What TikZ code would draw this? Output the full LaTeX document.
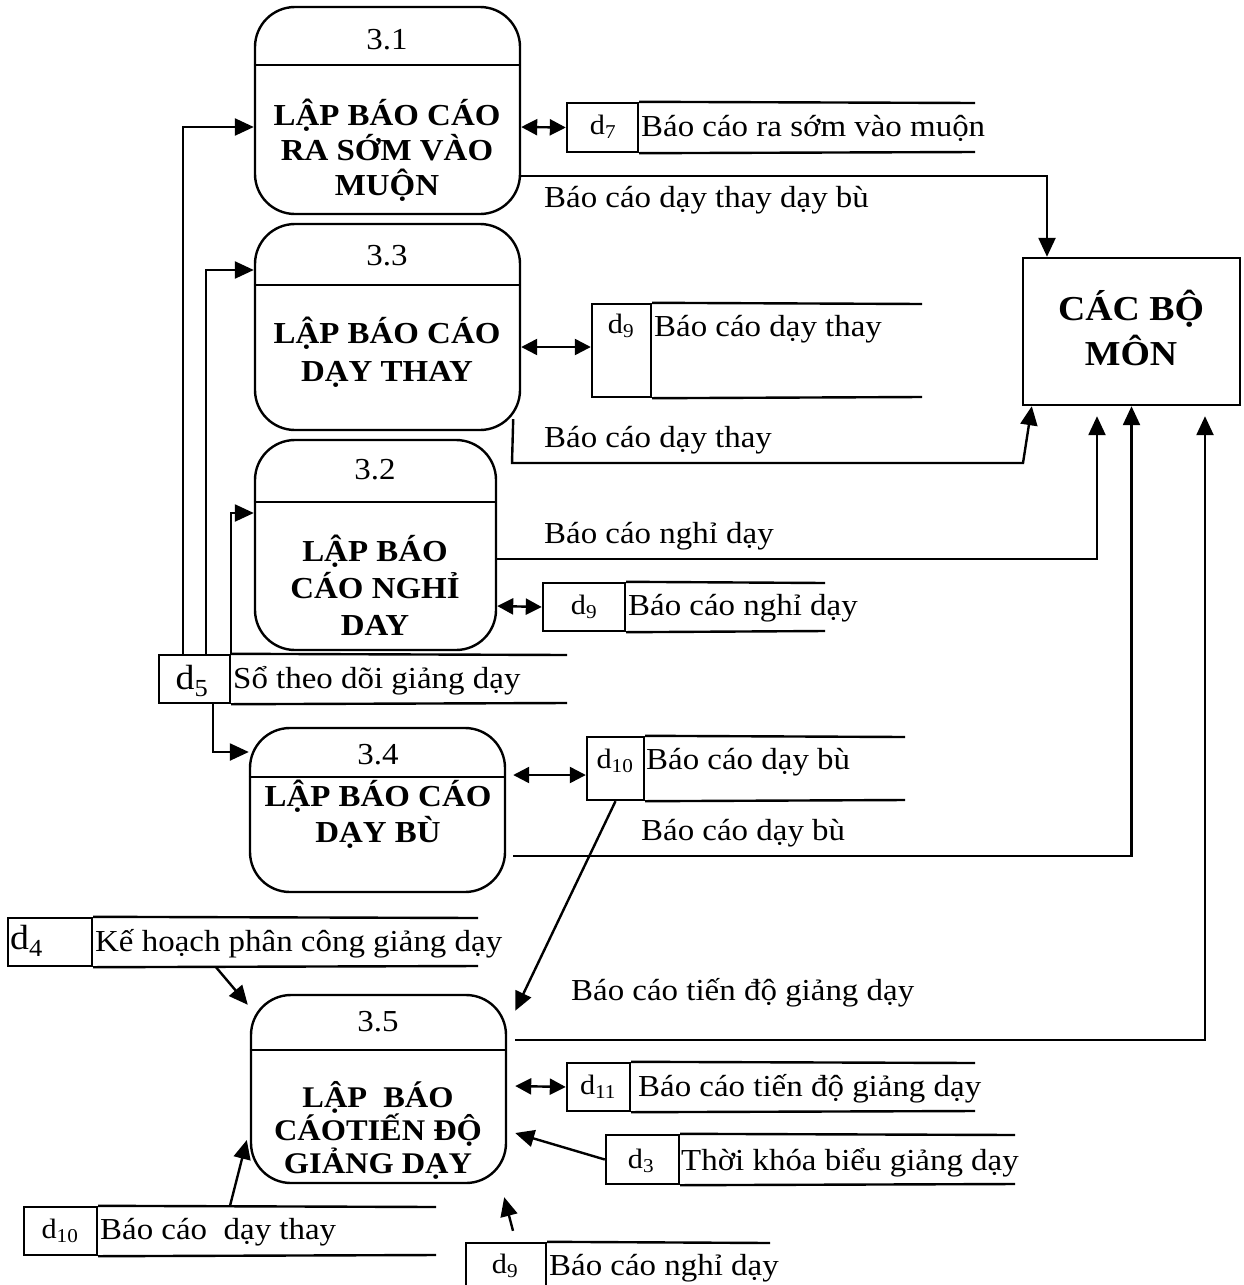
\documentclass[tikz,border=0pt]{standalone}
\usepackage{fontspec}
\setmainfont[FakeStretch=1.08]{Liberation Serif}
\usetikzlibrary{arrows.meta,calc}

% data store: id box #1 from (#2,#3) to (#4,#5), open lines running to x=#6
\newcommand\dstore[6]{%
  \node[idbox, minimum width={#4-#2}, minimum height={#5-#3}] (#1) at ({(#2+#4)/2},{(#3+#5)/2}) {};
  \draw (#1.north east) -- (#6,#3) (#1.south east) -- (#6,#5);
}

\begin{document}
\begin{tikzpicture}[x=1pt, y=-1pt, line width=2.4pt,
  tip/.style={-{Triangle[length=19pt,width=17pt]}},
  both/.style={{Triangle[length=16pt,width=16pt]}-{Triangle[length=16pt,width=16pt]}},
  proc/.style={draw, rounded corners=40pt, inner sep=0pt},
  idbox/.style={draw, inner sep=0pt},
  idtxt/.style={inner sep=0pt, font=\fontsize{28}{30}\selectfont},
  lbl/.style={inner sep=0pt, anchor=base west, font=\fontsize{30.5}{36}\selectfont},
  num/.style={inner sep=0pt, font=\fontsize{30.5}{36}\selectfont},
  ttl/.style={inner sep=0pt, align=center}]

\fill[white] (0,0) rectangle (1243,1285);
\useasboundingbox (0,0) rectangle (1243,1285);

% ---------- processes ----------
\node[proc, minimum width=265, minimum height=207] (p31) at (387.5,110.5) {};
\draw (p31.west |- 0,65) -- (p31.east |- 0,65);
\node[num] (p31n) at (387,40) {3.1};
\node[ttl, font=\bfseries\fontsize{30.5}{35}\selectfont] (p31t) at (387,150) {LẬP BÁO CÁO\\RA SỚM VÀO\\MUỘN};

\node[proc, minimum width=265, minimum height=206] (p33) at (387.5,327) {};
\draw (p33.west |- 0,285) -- (p33.east |- 0,285);
\node[num] (p33n) at (387,256) {3.3};
\node[ttl, font=\bfseries\fontsize{30.5}{38}\selectfont] (p33t) at (387,352) {LẬP BÁO CÁO\\DẠY THAY};

\node[proc, minimum width=241, minimum height=210] (p32) at (375.5,545) {};
\draw (p32.west |- 0,502) -- (p32.east |- 0,502);
\node[num] (p32n) at (375,470) {3.2};
\node[ttl, font=\bfseries\fontsize{30.5}{37}\selectfont] (p32t) at (375,585) {LẬP BÁO\\CÁO NGHỈ\\DAY};

\node[proc, minimum width=255, minimum height=164] (p34) at (377.5,810) {};
\draw (p34.west |- 0,777) -- (p34.east |- 0,777);
\node[num] (p34n) at (378,755) {3.4};
\node[ttl, font=\bfseries\fontsize{30.5}{36}\selectfont] (p34t) at (378,814) {LẬP BÁO CÁO\\DẠY BÙ};

\node[proc, minimum width=255, minimum height=188] (p35) at (378.5,1089) {};
\draw (p35.west |- 0,1050) -- (p35.east |- 0,1050);
\node[num] (p35n) at (378,1022) {3.5};
\node[ttl, font=\bfseries\fontsize{30}{33}\selectfont] (p35t) at (378,1130) {LẬP\ \ BÁO\\CÁOTIẾN ĐỘ\\GIẢNG DẠY};

% ---------- external entity ----------
\node[draw, inner sep=0pt, minimum width=217, minimum height=147] (cbm) at (1131.5,331.5) {};
\node[ttl, font=\bfseries\fontsize{35}{45}\selectfont] (cbmt) at (1131,328) {CÁC BỘ\\MÔN};

% ---------- data stores ----------
\dstore{s7}{567}{103}{638}{152}{975}
\node[idtxt] (s7i) at (603,127) {d\textsubscript{7}};
\node[lbl] (s7t) at (640,136) {Báo cáo ra sớm vào muộn};

\dstore{s9a}{592}{304}{651}{397}{922}
\node[idtxt] (s9ai) at (621,326) {d\textsubscript{9}};
\node[lbl] (s9at) at (653,336) {Báo cáo dạy thay};

\dstore{s9b}{543}{583}{625}{631}{825}
\node[idtxt] (s9bi) at (584,607) {d\textsubscript{9}};
\node[lbl] (s9bt) at (627,615) {Báo cáo nghỉ dạy};

\dstore{s5}{159}{655}{230}{703}{567}
\node[idtxt, font=\fontsize{35}{40}\selectfont] (s5i) at (192,681) {d\textsubscript{5}};
\node[lbl] (s5t) at (232,688) {Sổ theo dõi giảng dạy};

\dstore{s10a}{587}{737}{644}{800}{905}
\node[idtxt] (s10ai) at (615,761) {d\textsubscript{10}};
\node[lbl] (s10at) at (645,769) {Báo cáo dạy bù};

\dstore{s4}{8}{918}{92}{966}{478}
\node[idtxt, font=\fontsize{35}{40}\selectfont, anchor=west] (s4i) at (9,941) {d\textsubscript{4}};
\node[lbl] (s4t) at (94,951) {Kế hoạch phân công giảng dạy};

\dstore{s11}{567}{1063}{630}{1111}{975}
\node[idtxt] (s11i) at (598,1087) {d\textsubscript{11}};
\node[lbl] (s11t) at (637,1096) {Báo cáo tiến độ giảng dạy};

\dstore{s3}{606}{1135}{679}{1184}{1015}
\node[idtxt] (s3i) at (641,1161) {d\textsubscript{3}};
\node[lbl] (s3t) at (680,1170) {Thời khóa biểu giảng dạy};

\dstore{s10b}{24}{1207}{97}{1255}{436}
\node[idtxt] (s10bi) at (60,1231) {d\textsubscript{10}};
\node[lbl] (s10bt) at (99,1239) {Báo cáo\ \ dạy thay};

\dstore{s9c}{466}{1243}{546}{1292}{770}
\node[idtxt] (s9ci) at (505,1266) {d\textsubscript{9}};
\node[lbl] (s9ct) at (548,1275) {Báo cáo nghỉ dạy};

% ---------- flow labels ----------
\node[lbl] (f1) at (543,207) {Báo cáo dạy thay dạy bù};
\node[lbl] (f2) at (543,447) {Báo cáo dạy thay};
\node[lbl] (f3) at (543,543) {Báo cáo nghỉ dạy};
\node[lbl] (f4) at (640,840) {Báo cáo dạy bù};
\node[lbl] (f5) at (570,1000) {Báo cáo tiến độ giảng dạy};

% ---------- flows ----------
% from the teaching log d5 into the processes
\draw[tip] (s5.north -| 183,0) |- (p31.west |- 0,127);
\draw[tip] (s5.north -| 206,0) |- (p33.west |- 0,270);
\draw[tip] (s5.north east) |- (p32.west |- 0,513);
\draw[tip] (s5.south -| 213,0) |- (p34.west |- 0,752);

% process <-> own store
\draw[both] (p31.east |- 0,127) -- (s7.west);
\draw[both] (p33.east |- 0,347) -- (s9a.west |- 0,347);
\draw[both] (p32.east |- 0,606) -- (s9b.west);
\draw[both] ($(p34.east |- 0,775)+(7,0)$) -- (s10a.west |- 0,775);
\draw[both] ($(p35.east |- 0,1086)+(8,0)$) -- (s11.west);

% reports to the departments
\draw[tip] (p31.east |- 0,176) -| (cbm.north -| 1047,0);
\draw[tip] ([shift={(-8,-12)}]p33.south east) -- (512,463) -- (1023,463) -- ([xshift=10pt]cbm.south west);
\draw[tip] (p32.east |- 0,559) -| ([shift={(-34.5,10)}]cbm.south);
\draw[tip] ($(p34.east |- 0,856)+(7,0)$) -| (cbm.south);
\draw[tip] ($(p35.east |- 0,1040)+(8,0)$) -| ([shift={(73.5,10)}]cbm.south);

% stores feeding process 3.5
\draw[tip] (s10a.south) -- ([shift={(8,17)}]p35.north east);
\draw[tip] (s4.south -| 216,0) -- ([shift={(-2,11)}]p35.north west);
\draw[tip] (s3.west) -- ($(p35.east |- 0,1133)+(8,0)$);
\draw[tip] (s10b.north -| 230,0) -- ($(p35.west |- 0,1140)+(-3,0)$);
\draw[tip] ($(s9c.north -| 513,0)+(0,-11)$) -- ([shift={(-3,13)}]p35.south east);

\end{tikzpicture}
\end{document}
